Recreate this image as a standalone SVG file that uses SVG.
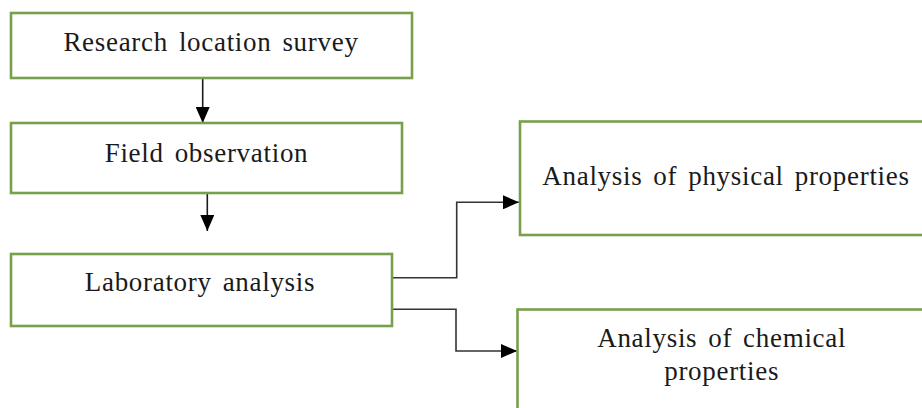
<svg xmlns="http://www.w3.org/2000/svg" width="922" height="408" viewBox="0 0 922 408">
<defs>
<style>
.box{fill:#ffffff;stroke:#78a04c;stroke-width:2.6}
.t{font-family:"Liberation Serif","Times New Roman",serif;font-size:27px;fill:#1a1a1a;text-anchor:middle;letter-spacing:0.7px;word-spacing:3.5px}
.c{fill:none;stroke:#1a1a1a;stroke-width:1.6}
.c2{fill:none;stroke:#333333;stroke-width:1.6}
</style>
<marker id="ahl" viewBox="0 0 16 14" refX="16" refY="7" markerWidth="16" markerHeight="14" markerUnits="userSpaceOnUse" orient="auto">
<path d="M0,0 L16,7 L0,14 z" fill="#000"/>
</marker>
</defs>
<rect width="922" height="408" fill="#ffffff"/>
<g id="connectors">
<path class="c" d="M202.7,79 L202.7,123" marker-end="url(#ahl)"/>
<path class="c" d="M207.3,172 L207.3,231" marker-end="url(#ahl)"/>
<path class="c2" d="M393,277.7 L456.7,277.7 L456.7,202.3 L519,202.3" marker-end="url(#ahl)"/>
<path class="c2" d="M393,309.3 L456,309.3 L456,351 L517,351" marker-end="url(#ahl)"/>
</g>
<g id="n1">
<rect class="box" x="11" y="13" width="401" height="65"/>
<text class="t" x="211" y="50.7">Research location survey</text>
</g>
<g id="n2">
<rect class="box" x="11" y="123" width="391" height="70"/>
<text class="t" x="206.5" y="161.7">Field observation</text>
</g>
<g id="n3">
<rect class="box" x="11" y="254" width="381" height="72"/>
<text class="t" x="200" y="291">Laboratory analysis</text>
</g>
<g id="n4">
<rect class="box" x="520" y="121.5" width="420" height="113.5"/>
<text class="t" x="726" y="185">Analysis of physical properties</text>
</g>
<g id="n5">
<rect class="box" x="517.5" y="309.5" width="420" height="120"/>
<text class="t" x="721.7" y="346.7">Analysis of chemical</text>
<text class="t" x="721.7" y="380">properties</text>
</g>
</svg>
